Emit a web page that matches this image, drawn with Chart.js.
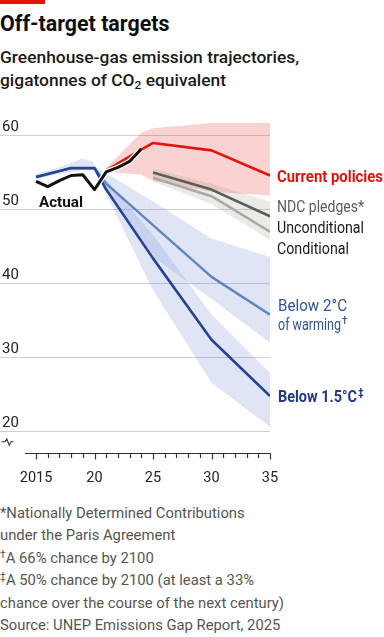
<!DOCTYPE html>
<html><head><meta charset="utf-8">
<script src="https://cdn.jsdelivr.net/npm/chart.js@4"></script>
<style>
html,body{margin:0;padding:0;background:#fff;width:384px;height:637px;overflow:hidden;font-family:Roboto,"Noto Sans",sans-serif;}
#bar{position:absolute;left:0;top:0;width:45px;height:4px;background:#e3120b;}
#title{position:absolute;left:0;top:11px;font-size:21.4px;line-height:26px;font-weight:700;color:#0d0d0d;white-space:nowrap;}
#sub{position:absolute;left:0;top:46px;font-size:17.4px;line-height:22.7px;font-weight:500;color:#1a1a1a;white-space:nowrap;}
#sub sub{font-size:0.68em;vertical-align:-0.25em;line-height:0;}
#notes{position:absolute;left:0;top:502px;font-size:14.8px;line-height:22.4px;color:#555;white-space:nowrap;}
#notes sup{font-size:0.7em;vertical-align:0.45em;line-height:0;}
canvas{position:absolute;left:0;top:0;}
</style></head>
<body>
<div id="bar"></div>
<div id="title">Off-target targets</div>
<div id="sub">Greenhouse-gas emission trajectories,<br>gigatonnes of CO<sub>2</sub> equivalent</div>
<div id="notes">*Nationally Determined Contributions<br>under the Paris Agreement<br><sup>†</sup>A 66% chance by 2100<br><sup>‡</sup>A 50% chance by 2100 (at least a 33%<br>chance over the course of the next century)<br>Source: UNEP Emissions Gap Report, 2025</div>
<canvas id="c" width="384" height="637"></canvas>
<script>
// ---- data ----
const actualYears = [2015,2016,2017,2018,2019,2020,2021,2022,2023,2024];
const actual      = [53.7,53.0,53.8,54.5,54.6,52.6,55.0,55.6,56.4,58.1];

const blueYears   = [2015,2016,2017,2018,2019,2020,2021,2025,2030,2035];
const below2      = [54.3,54.7,55.1,55.5,55.5,55.5,53.4,47.8,40.8,35.7];
const below15     = [54.3,54.7,55.1,55.5,55.5,55.5,52.6,43.3,32.3,24.7];

const blueHistYears = [2015,2017,2019,2020];
const blueHistHigh  = [54.7,55.6,56.8,56.3];
const blueHistLow   = [54.0,54.7,55.2,55.2];

const bandYears   = [2020,2025,2030,2035];
const below2High  = [55.8,51.0,46.0,43.5];
const below2Low   = [55.2,43.5,37.8,31.9];
const below15High = [55.8,46.5,35.7,27.8];
const below15Low  = [55.2,39.0,26.5,20.5];

const policyYears = [2021,2024,2025,2030,2035];
const policies    = [55.2,58.0,58.9,57.9,54.5];
const policyHigh  = [55.5,60.3,60.9,61.6,61.6];
const policyLow   = [55.0,54.6,53.8,52.3,51.8];

const ndcYears      = [2025,2030,2035];
const unconditional = [54.9,52.6,49.0];
const conditional   = [54.2,51.7,46.9];
const ndcHigh       = [55.4,53.4,51.0];
const ndcLow        = [53.7,50.6,45.8];

const yTicks = [20,30,40,50,60];
const xTickLabels = [[2015,'2015'],[2020,'20'],[2025,'25'],[2030,'30'],[2035,'35']];

// ---- build ----
const pts = (xs, ys) => xs.map((x,i)=>({x, y: ys[i]}));
const datasets = [];
function line(xs, ys, color, width, order){
  datasets.push({data: pts(xs,ys), borderColor: color, borderWidth: width, pointRadius: 0,
    fill: false, order, borderJoinStyle:'round', borderCapStyle:'butt', tension: 0});
}
function band(xs, hi, lo, color, order){
  const idx = datasets.length;
  datasets.push({data: pts(xs,lo), borderWidth: 0, borderColor:'rgba(0,0,0,0)', pointRadius:0, fill:false, order});
  datasets.push({data: pts(xs,hi), borderWidth: 0, borderColor:'rgba(0,0,0,0)', pointRadius:0,
    fill: {target: idx}, backgroundColor: color, order});
}
band(blueHistYears, blueHistHigh, blueHistLow, 'rgba(100,125,205,0.20)', 12);
band(bandYears, below2High, below2Low, 'rgba(100,125,205,0.20)', 11);
band(bandYears, below15High, below15Low, 'rgba(100,125,205,0.20)', 10);
band(policyYears, policyHigh, policyLow, 'rgba(227,18,11,0.19)', 9);
band(ndcYears, ndcHigh, ndcLow, 'rgba(150,150,130,0.20)', 8);
line(blueYears, below2, '#6385bf', 2.4, 6);
line(blueYears, below15, '#28448f', 2.6, 5);
line(ndcYears, conditional, '#a9aba3', 2.6, 4);
line(ndcYears, unconditional, '#5b5d5a', 2.6, 3);
line(policyYears, policies, '#e3120b', 2.6, 2);
line(actualYears, actual, '#ffffff', 5.4, 1.5);
line(actualYears, actual, '#111111', 3.0, 1);

function fitText(ctx, str, x, y, font, color, target){
  ctx.save();
  ctx.font = font; ctx.fillStyle = color; ctx.textAlign='left';
  const w = ctx.measureText(str).width;
  const s = target ? target / w : 1;
  ctx.translate(x, y); ctx.scale(s, 1);
  ctx.fillText(str, 0, 0);
  ctx.restore();
  return w * s;
}

const decor = {
  id:'decor',
  beforeDatasetsDraw(chart){
    const {ctx, scales:{x,y}} = chart;
    ctx.save();
    ctx.strokeStyle = '#cfcfcf'; ctx.lineWidth = 1;
    const xr = x.getPixelForValue(2035);
    yTicks.forEach(v=>{
      const py = Math.round(y.getPixelForValue(v))+0.5;
      ctx.beginPath(); ctx.moveTo(0,py); ctx.lineTo(xr,py); ctx.stroke();
    });
    ctx.restore();
  },
  afterDraw(chart){
    const {ctx, scales:{x,y}} = chart;
    ctx.save();
    // y labels
    ctx.fillStyle = '#222'; ctx.font = '15px Roboto'; ctx.textBaseline='alphabetic'; ctx.textAlign='left';
    yTicks.forEach(v=>{ ctx.fillText(String(v), 2, y.getPixelForValue(v)-4.3); });
    // x axis
    const ay = Math.round(y.getPixelForValue(17))+0.5;
    ctx.strokeStyle = '#333'; ctx.lineWidth = 1.2;
    ctx.beginPath(); ctx.moveTo(x.getPixelForValue(2014.05), ay); ctx.lineTo(x.getPixelForValue(2035)+0.6, ay); ctx.stroke();
    for(let yr=2015; yr<=2035; yr++){
      const px = Math.round(x.getPixelForValue(yr))+0.5;
      const len = (yr%5===0)?6:4.5;
      ctx.beginPath(); ctx.moveTo(px, ay); ctx.lineTo(px, ay+len); ctx.stroke();
    }
    ctx.fillStyle = '#222'; ctx.font = '14.5px Roboto'; ctx.textAlign='center';
    xTickLabels.forEach(([v,t])=>ctx.fillText(t, x.getPixelForValue(v), 481.7));
    // break symbol
    ctx.lineWidth = 1.1; ctx.strokeStyle='#333';
    ctx.beginPath(); ctx.moveTo(1.5,441.7); ctx.lineTo(5,441.7); ctx.lineTo(6.8,439); ctx.lineTo(9.3,445.2); ctx.lineTo(11,441.7); ctx.lineTo(13.5,441.7); ctx.stroke();
    ctx.restore();
    // series labels
    const lx = x.getPixelForValue(2035)+7;
    const endY = arr => y.getPixelForValue(arr[arr.length-1]);
    fitText(ctx, 'Current policies', lx, endY(policies)+6.3, 'bold 16px Roboto', '#e3120b', 106);
    const u = endY(unconditional);
    fitText(ctx, 'NDC pledges*', lx, u-4.5, '16px Roboto', '#5a5a5a', 87);
    fitText(ctx, 'Unconditional', lx, u+16.5, '16px Roboto', '#1a1a1a', 87);
    fitText(ctx, 'Conditional', lx, u+37.8, '16px Roboto', '#1a1a1a', 72);
    const b2 = endY(below2);
    fitText(ctx, 'Below 2°C', lx+1, b2-4, '16px Roboto', '#34549a', 69);
    let w = fitText(ctx, 'of warming', lx+1, b2+15.4, '16px Roboto', '#34549a', 63);
    fitText(ctx, '†', lx+2+w, b2+9.5, '500 10px Roboto', '#34549a', 0);
    const b15 = endY(below15);
    w = fitText(ctx, 'Below 1.5°C', lx+1, b15+5.7, 'bold 16px Roboto', '#1f3a80', 79);
    fitText(ctx, '‡', lx+2+w, b15-0.5, 'bold 10px Roboto', '#1f3a80', 0);
    fitText(ctx, 'Actual', x.getPixelForValue(2015.25), 207.3, 'bold 15.5px Roboto', '#111', 44);
  }
};

new Chart(document.getElementById('c'), {
  type:'line',
  data:{datasets},
  options:{
    responsive:false, animation:false, devicePixelRatio:1,
    layout:{padding:{top:112.6, bottom:184, left:0, right:114}},
    plugins:{legend:{display:false}, tooltip:{enabled:false}},
    scales:{
      x:{type:'linear', min:2011.92, max:2035, display:false},
      y:{type:'linear', min:17, max:63, display:false}
    }
  },
  plugins:[decor]
});
</script>
</body></html>
